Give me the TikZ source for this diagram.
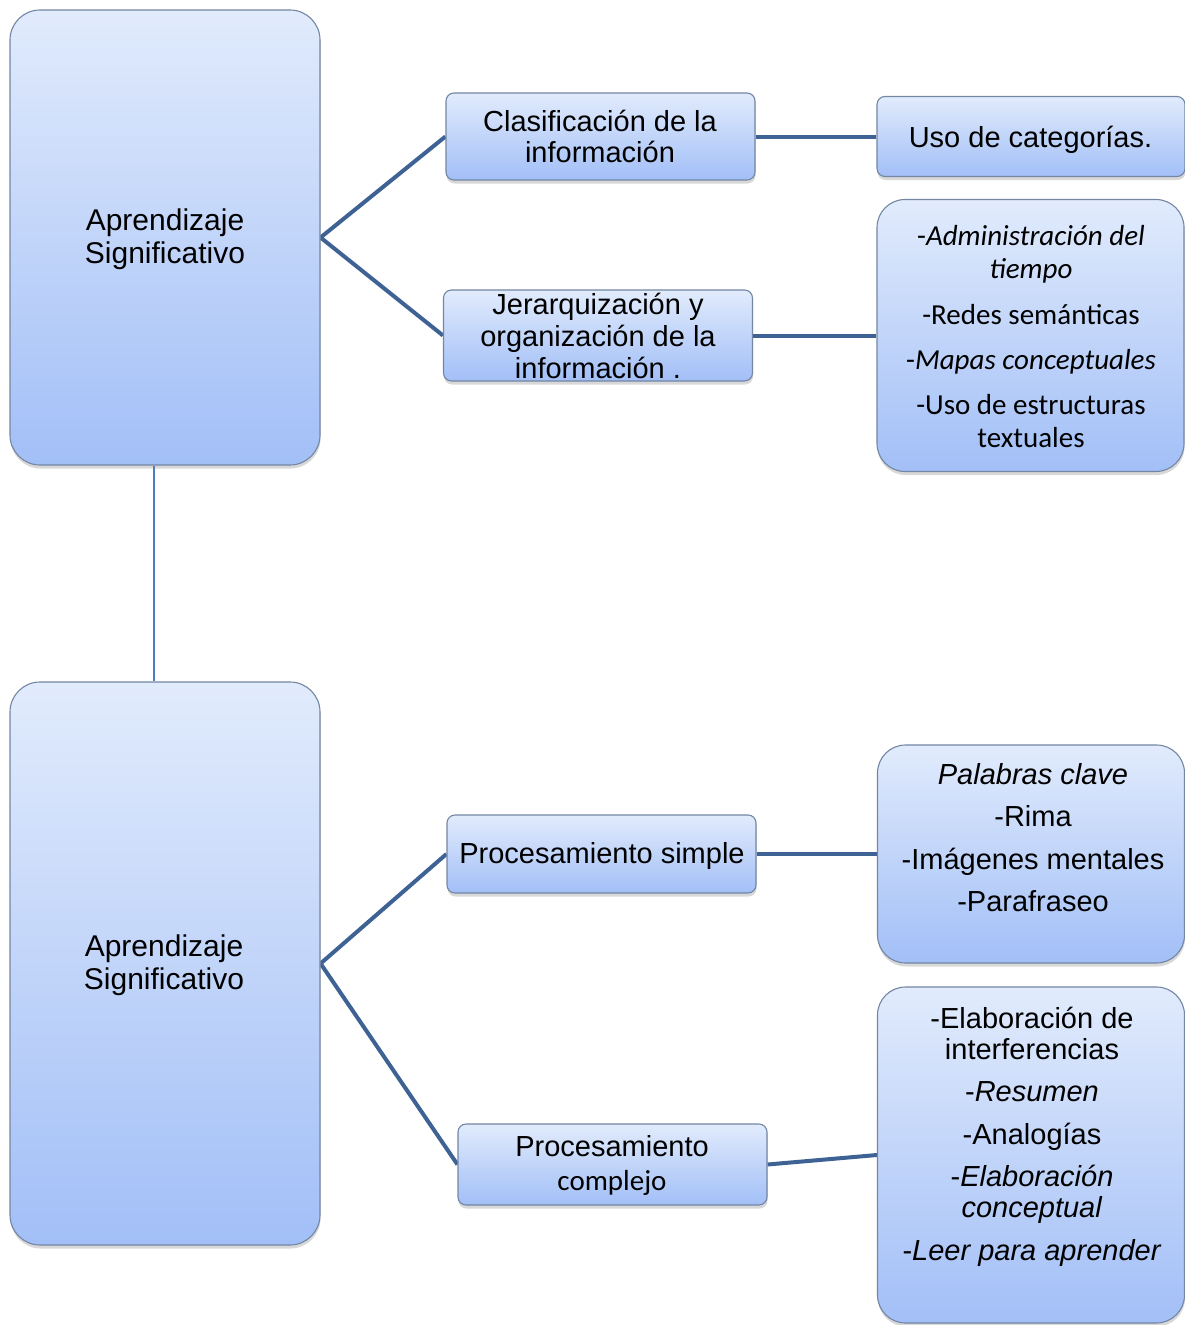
\documentclass[tikz,border=0pt]{standalone}
\usepackage{fontspec}
\setmainfont{Liberation Sans}
\newfontfamily\calibrifont{Carlito}
\usetikzlibrary{shadows,backgrounds}
\definecolor{boxtop}{HTML}{E1EBFC}
\definecolor{boxbot}{HTML}{A2BFF7}
\definecolor{boxline}{HTML}{7386A3}
\definecolor{conn}{HTML}{3E6294}
\definecolor{vconn}{HTML}{4A7EC0}
\begin{document}
\begin{tikzpicture}[x=1pt,y=-1pt,
  box/.style={draw=boxline, line width=1.1pt, top color=boxtop, bottom color=boxbot, inner sep=0pt,
    drop shadow={shadow xshift=0.5pt, shadow yshift=-3.5pt, opacity=0.3}},
  bigbox/.style={box, rounded corners=30pt, minimum width=310pt},
  midbox/.style={box, rounded corners=8pt, minimum width=309pt},
  sidebox/.style={box, rounded corners=28pt, minimum width=307pt},
  txt/.style={anchor=base, align=center, inner sep=0pt, font=\fontsize{29}{32}\selectfont},
  bigtxt/.style={txt, font=\fontsize{30}{33}\selectfont},
  link/.style={draw=conn, line width=4pt},
  vlink/.style={draw=vconn, line width=2pt},
]
\useasboundingbox (0,0) rectangle (1185,1325);

% boxes
\node[bigbox, minimum height=455pt] (big1) at (165,237.5) {};
\node[bigbox, minimum height=563pt] (big2) at (165,963.5) {};
\node[midbox, minimum height=87pt] (clas) at (600.5,136.5) {};
\node[midbox, minimum height=91pt] (jer) at (598,335.5) {};
\node[midbox, rounded corners=8pt, minimum width=308pt, minimum height=80pt] (uso) at (1031,136.5) {};
\node[sidebox, minimum height=272pt] (admin) at (1030.5,335.5) {};
\node[midbox, minimum height=78pt] (ps) at (601.5,854) {};
\node[sidebox, minimum height=218pt] (pal) at (1031,854) {};
\node[midbox, minimum height=81pt] (pc) at (612.5,1164.5) {};
\node[sidebox, minimum height=336pt] (last) at (1031,1155) {};

% texts (anchor = baseline of the last line)
\node[bigtxt] (big1t) at (165,263) {Aprendizaje\\Significativo};
\node[bigtxt] (big2t) at (164,989) {Aprendizaje\\Significativo};
\node[txt, font=\fontsize{29}{30.5}\selectfont] (clast) at (600,162) {Clasificación de la\\información};
\node[txt] (jert) at (598,378) {Jerarquización y\\organización de la\\información .};
\node[txt] (usot) at (1030.5,147) {Uso de categorías.};
\node[txt, font=\calibrifont\fontsize{29}{33}\selectfont] (admint) at (1031,447)
  {-\textit{Administración del}\\\textit{tiempo}\\[13pt]-Redes semánticas\\[12pt]-\textit{Mapas conceptuales}\\[12pt]-Uso de estructuras\\textuales};
\node[txt] (pst) at (602,863) {Procesamiento simple};
\node[txt, font=\fontsize{29}{42.5}\selectfont] (palt) at (1033,911.5)
  {\textit{Palabras clave}\\-Rima\\-Imágenes mentales\\-Parafraseo};
\node[txt] (pct) at (612,1190) {Procesamiento\\[2pt]{\calibrifont complejo}};
\node[txt, font=\fontsize{29}{31}\selectfont] (lastt) at (1032,1260)
  {-Elaboración de\\interferencias\\[11.5pt]-\textit{Resumen}\\[11.5pt]-Analogías\\[11.5pt]-\textit{Elaboración}\\\textit{conceptual}\\[11.5pt]-\textit{Leer para aprender}};

% connectors
\begin{pgfonlayer}{background}
\fill[white] (0,0) rectangle (1185,1325);
\draw[link] (big1.east) -- (clas.west);
\draw[link] (big1.east) -- (jer.west);
\draw[link] (clas.east) -- (uso.west);
\draw[link] (jer.east) -- (admin.west);
\draw[vlink] ([xshift=-11pt]big1.south) -- ([xshift=-11pt]big2.north);
\draw[link] (big2.east) -- (ps.west);
\draw[link] (big2.east) -- (pc.west);
\draw[link] (ps.east) -- (pal.west);
\draw[link] (pc.east) -- (last.west);
\end{pgfonlayer}
\end{tikzpicture}
\end{document}
